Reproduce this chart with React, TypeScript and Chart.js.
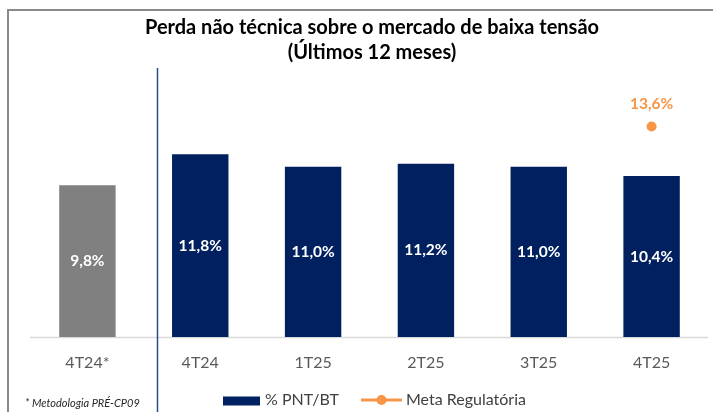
import React, { useEffect, useRef } from "react";
import { Chart, registerables } from "chart.js";

Chart.register(...registerables);

const categories = ["4T24*", "4T24", "1T25", "2T25", "3T25", "4T25"];
const pntValues = [9.8, 11.8, 11.0, 11.2, 11.0, 10.4];
const metaValues = [null, null, null, null, null, 13.6];
const titleLines = ["Perda não técnica sobre o mercado de baixa tensão", "(Últimos 12 meses)"];
const seriesNames = ["% PNT/BT", "Meta Regulatória"];
const footnote = "* Metodologia PRÉ-CP09";

const NAVY = "#002060";
const GRAY = "#808080";
const ORANGE = "#F79646";
const FONT = "Lato, 'Open Sans', sans-serif";

const fmt = (v: number) => v.toFixed(1).replace(".", ",") + "%";

const decorPlugin = {
  id: "decor",
  beforeDraw(chart: any) {
    const ctx = chart.ctx;
    const area = chart.chartArea;
    ctx.save();
    // outer frame (top and left edges visible)
    ctx.strokeStyle = "#8a8a8a";
    ctx.lineWidth = 2;
    ctx.beginPath();
    ctx.moveTo(8, 420);
    ctx.lineTo(8, 10);
    ctx.lineTo(713, 10);
    ctx.stroke();
    // baseline
    ctx.strokeStyle = "#d9d9d9";
    ctx.lineWidth = 1.5;
    ctx.beginPath();
    ctx.moveTo(area.left - 1, area.bottom + 0.5);
    ctx.lineTo(area.right, area.bottom + 0.5);
    ctx.stroke();
    ctx.restore();
  },
  afterDatasetsDraw(chart: any) {
    const ctx = chart.ctx;
    ctx.save();
    // divider line
    ctx.strokeStyle = "#2F4A8A";
    ctx.lineWidth = 1.5;
    ctx.beginPath();
    ctx.moveTo(157.5, 68);
    ctx.lineTo(157.5, 412);
    ctx.stroke();

    // bar labels
    const barMeta = chart.getDatasetMeta(0);
    ctx.font = `bold 15.5px ${FONT}`;
    ctx.fillStyle = "#ffffff";
    ctx.textAlign = "center";
    ctx.textBaseline = "middle";
    barMeta.data.forEach((el: any, i: number) => {
      const v = chart.data.datasets[0].data[i];
      if (v == null) return;
      ctx.fillText(fmt(v), el.x, (el.y + el.base) / 2);
    });
    // point labels
    const lineMeta = chart.getDatasetMeta(1);
    ctx.fillStyle = ORANGE;
    lineMeta.data.forEach((el: any, i: number) => {
      const v = chart.data.datasets[1].data[i];
      if (v == null) return;
      ctx.fillText(fmt(v), el.x, el.y - 22);
    });

    // legend
    const ly = 401;
    ctx.font = `16px ${FONT}`;
    ctx.textAlign = "left";
    let x = 223;
    ctx.fillStyle = NAVY;
    ctx.fillRect(x, ly - 4.5, 37, 9);
    x += 37 + 5;
    ctx.fillStyle = "#404040";
    ctx.fillText(seriesNames[0], x, ly - 1.5);
    x += ctx.measureText(seriesNames[0]).width + 22;
    ctx.strokeStyle = ORANGE;
    ctx.lineWidth = 3;
    ctx.beginPath();
    ctx.moveTo(x, ly - 1);
    ctx.lineTo(x + 41, ly - 1);
    ctx.stroke();
    ctx.fillStyle = ORANGE;
    ctx.beginPath();
    ctx.arc(x + 20.5, ly - 1, 5, 0, Math.PI * 2);
    ctx.fill();
    x += 41 + 4;
    ctx.fillStyle = "#404040";
    ctx.fillText(seriesNames[1], x, ly - 1.5);

    // footnote
    ctx.font = `italic 11px ${FONT}`;
    ctx.fillStyle = "#262626";
    ctx.fillText(footnote, 25, 403);
    ctx.restore();
  },
};

export default function App() {
  const ref = useRef<HTMLCanvasElement | null>(null);
  useEffect(() => {
    if (!ref.current) return;
    const chart = new Chart(ref.current, {
      type: "bar",
      data: {
        labels: categories,
        datasets: [
          {
            type: "bar",
            label: seriesNames[0],
            data: pntValues,
            backgroundColor: pntValues.map((_, i) => (i === 0 ? GRAY : NAVY)),
            borderWidth: 0,
            categoryPercentage: 0.5,
            barPercentage: 1,
            order: 2,
          },
          {
            type: "line",
            label: seriesNames[1],
            data: metaValues as any,
            borderColor: ORANGE,
            backgroundColor: ORANGE,
            pointRadius: 5,
            pointBorderWidth: 0,
            showLine: false,
            order: 1,
          },
        ],
      },
      options: {
        responsive: false,
        animation: false,
        layout: { padding: { left: 31, right: 0, top: 0, bottom: 23.7 } },
        plugins: {
          legend: { display: false },
          tooltip: { enabled: false },
          title: {
            display: true,
            text: titleLines,
            color: "#000000",
            font: { family: FONT, size: 20, weight: "bold", lineHeight: 25 / 20 },
            padding: { top: 15, bottom: 24.3 },
          },
        },
        scales: {
          x: {
            grid: { display: false, drawTicks: false },
            border: { display: false },
            ticks: { color: "#595959", font: { family: FONT, size: 16 }, padding: 16 },
          },
          y: {
            display: false,
            min: 0,
            max: 16,
          },
        },
      },
      plugins: [decorPlugin],
    });
    return () => chart.destroy();
  }, []);
  return (
    <div style={{ position: "fixed", left: 0, top: 0, width: 713, height: 412, background: "#fff" }}>
      <canvas ref={ref} width={713} height={412} style={{ display: "block" }} />
    </div>
  );
}
